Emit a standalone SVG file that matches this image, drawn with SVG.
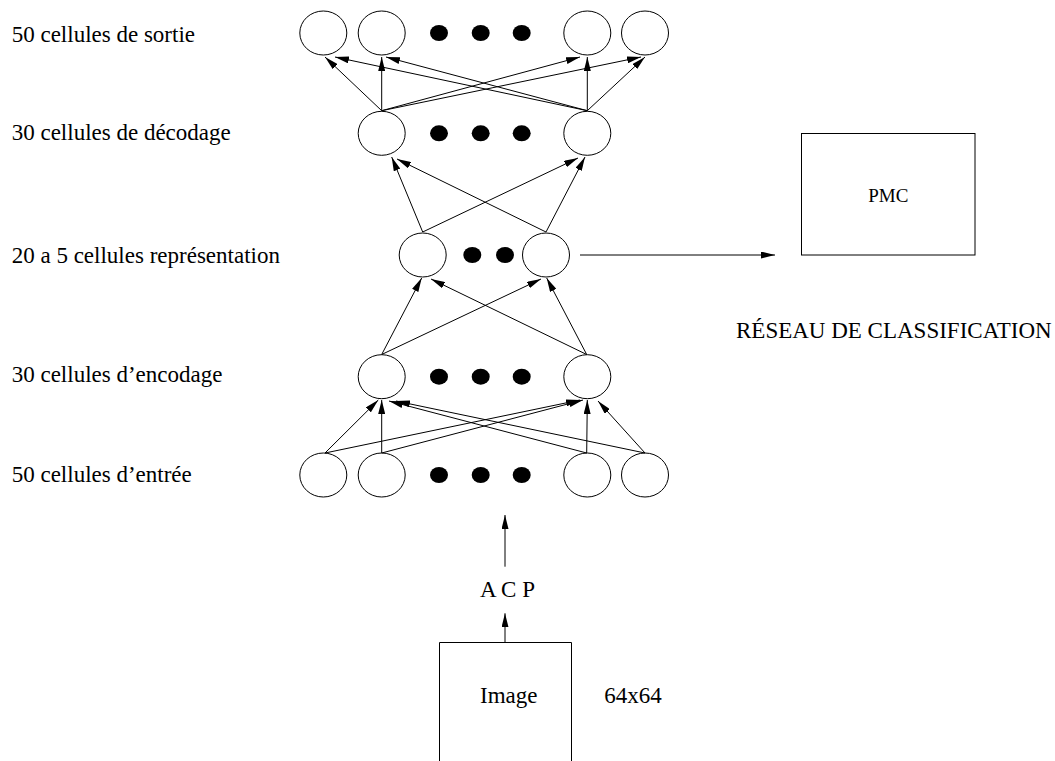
<svg xmlns="http://www.w3.org/2000/svg" width="1055" height="761" viewBox="0 0 1055 761">
  <style>
    .lbl { font-family: "Liberation Serif", serif; font-size: 23px; fill: #000; }
    .small { font-size: 19px; }
    .cell { fill: #fff; stroke: #000; stroke-width: 1; }
    .dot { fill: #000; stroke: none; }
    .box { fill: none; stroke: #000; stroke-width: 1; }
    .conn line { stroke: #000; stroke-width: 1; fill: none; marker-end: url(#head); }
  </style>
  <defs>
    <marker id="head" markerUnits="userSpaceOnUse" markerWidth="14" markerHeight="7" refX="14" refY="3.5" orient="auto">
      <path d="M0,0 L14,3.5 L0,7 Z" fill="#000"/>
    </marker>
  </defs>
  <rect width="1055" height="761" fill="#fff"/>

  <!-- layer captions -->
  <g id="captions">
    <text class="lbl" x="11.7" y="41.7">50 cellules de sortie</text>
    <text class="lbl" x="11.7" y="140">30 cellules de décodage</text>
    <text class="lbl" x="11.7" y="263">20 a 5 cellules représentation</text>
    <text class="lbl" x="11.7" y="381.7">30 cellules d’encodage</text>
    <text class="lbl" x="11.7" y="481.7">50 cellules d’entrée</text>
  </g>

  <!-- output layer -->
  <g id="sortie">
    <ellipse class="cell" cx="323.3" cy="33" rx="23.5" ry="22"/>
    <ellipse class="cell" cx="381.7" cy="33" rx="23.5" ry="22"/>
    <ellipse class="dot" cx="439" cy="33" rx="9" ry="8"/>
    <ellipse class="dot" cx="480.7" cy="33" rx="9" ry="8"/>
    <ellipse class="dot" cx="521.7" cy="33" rx="9" ry="8"/>
    <ellipse class="cell" cx="587.3" cy="33" rx="23.5" ry="22"/>
    <ellipse class="cell" cx="645" cy="33" rx="23.5" ry="22"/>
  </g>

  <!-- decoding layer -->
  <g id="decodage">
    <ellipse class="cell" cx="381.7" cy="133.3" rx="23.5" ry="22"/>
    <ellipse class="dot" cx="439" cy="133.3" rx="9" ry="8"/>
    <ellipse class="dot" cx="480.7" cy="133.3" rx="9" ry="8"/>
    <ellipse class="dot" cx="521.7" cy="133.3" rx="9" ry="8"/>
    <ellipse class="cell" cx="587.3" cy="133.3" rx="23.5" ry="22"/>
  </g>

  <!-- representation layer -->
  <g id="representation">
    <ellipse class="cell" cx="422.7" cy="255" rx="23.5" ry="22"/>
    <ellipse class="dot" cx="472.3" cy="255" rx="9" ry="8"/>
    <ellipse class="dot" cx="505" cy="255" rx="9" ry="8"/>
    <ellipse class="cell" cx="546" cy="255" rx="23.5" ry="22"/>
  </g>

  <!-- encoding layer -->
  <g id="encodage">
    <ellipse class="cell" cx="381.7" cy="376.7" rx="23.5" ry="22"/>
    <ellipse class="dot" cx="439" cy="376.7" rx="9" ry="8"/>
    <ellipse class="dot" cx="480.7" cy="376.7" rx="9" ry="8"/>
    <ellipse class="dot" cx="521.7" cy="376.7" rx="9" ry="8"/>
    <ellipse class="cell" cx="587.3" cy="376.7" rx="23.5" ry="22"/>
  </g>

  <!-- input layer -->
  <g id="entree">
    <ellipse class="cell" cx="323.3" cy="475" rx="23.5" ry="22"/>
    <ellipse class="cell" cx="381.7" cy="475" rx="23.5" ry="22"/>
    <ellipse class="dot" cx="439" cy="475" rx="9" ry="8"/>
    <ellipse class="dot" cx="480.7" cy="475" rx="9" ry="8"/>
    <ellipse class="dot" cx="521.7" cy="475" rx="9" ry="8"/>
    <ellipse class="cell" cx="587.3" cy="475" rx="23.5" ry="22"/>
    <ellipse class="cell" cx="645" cy="475" rx="23.5" ry="22"/>
  </g>

  <!-- classifier -->
  <g id="pmc">
    <rect class="box" x="801.5" y="133.5" width="173.5" height="121.5"/>
    <text class="lbl small" x="868.3" y="201.7">PMC</text>
  </g>
  <g id="reseau">
    <text class="lbl" x="736" y="338.3">RÉSEAU DE CLASSIFICATION</text>
  </g>

  <!-- ACP label -->
  <g id="acp">
    <text class="lbl" x="480" y="597.3">A C P</text>
  </g>

  <!-- image box, open at the bottom edge -->
  <g id="image">
    <path class="box" d="M439.5,770 V642.5 H571.5 V770"/>
    <text class="lbl" x="480" y="703.3">Image</text>
    <text class="lbl" x="604.3" y="703.3">64x64</text>
  </g>

  <!-- connectors -->
  <g id="connectors" class="conn">
    <!-- decoding -> output -->
    <line x1="381.7" y1="110.7" x2="325" y2="57"/>
    <line x1="381.7" y1="110.7" x2="381.7" y2="57"/>
    <line x1="381.7" y1="110.7" x2="580" y2="57"/>
    <line x1="381.7" y1="110.7" x2="641" y2="57"/>
    <line x1="587.3" y1="110.7" x2="335" y2="57"/>
    <line x1="587.3" y1="110.7" x2="386" y2="57"/>
    <line x1="587.3" y1="110.7" x2="587.3" y2="57"/>
    <line x1="587.3" y1="110.7" x2="645" y2="57"/>

    <!-- representation -> decoding -->
    <line x1="422.7" y1="232" x2="391.7" y2="157"/>
    <line x1="422.7" y1="232" x2="578" y2="158"/>
    <line x1="546" y1="232" x2="397" y2="159"/>
    <line x1="546" y1="232" x2="585" y2="157"/>

    <!-- encoding -> representation -->
    <line x1="381.7" y1="354.5" x2="421.7" y2="278"/>
    <line x1="381.7" y1="354.5" x2="541" y2="279"/>
    <line x1="586.7" y1="354.5" x2="431" y2="279"/>
    <line x1="586.7" y1="354.5" x2="546.7" y2="278"/>

    <!-- input -> encoding -->
    <line x1="325" y1="453" x2="378.3" y2="400"/>
    <line x1="325" y1="453" x2="580" y2="400"/>
    <line x1="381.7" y1="453" x2="381.7" y2="400"/>
    <line x1="381.7" y1="453" x2="583" y2="400"/>
    <line x1="586.7" y1="453" x2="389" y2="401"/>
    <line x1="586.7" y1="453" x2="587.3" y2="400"/>
    <line x1="645" y1="453" x2="396" y2="401"/>
    <line x1="645" y1="453" x2="598" y2="401"/>

    <!-- representation -> classifier -->
    <line x1="580" y1="255" x2="775" y2="255"/>

    <!-- image -> ACP -> input -->
    <line x1="505" y1="642.7" x2="505" y2="613.3"/>
    <line x1="505" y1="566.7" x2="505" y2="515"/>
  </g>
</svg>
